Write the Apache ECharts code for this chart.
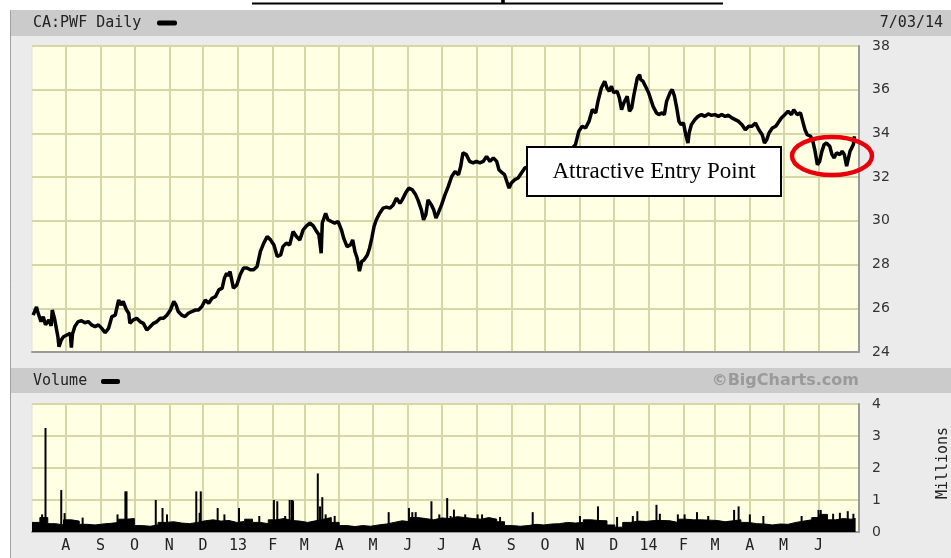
<!DOCTYPE html>
<html>
<head>
<meta charset="utf-8">
<script src="https://cdn.jsdelivr.net/npm/echarts@6/dist/echarts.min.js"></script>
<style>
  html, body { margin: 0; padding: 0; background: #fff; }
  #chart { width: 951px; height: 558px; }
</style>
</head>
<body>
<div id="chart"></div>
<script>
// month grid lines and their labels (first day of each month)
const monthTicks = ['2012-08-01','2012-09-01','2012-10-01','2012-11-01','2012-12-01','2013-01-01','2013-02-01','2013-03-01',
  '2013-04-01','2013-05-01','2013-06-01','2013-07-01','2013-08-01','2013-09-01','2013-10-01','2013-11-01','2013-12-01',
  '2014-01-01','2014-02-01','2014-03-01','2014-04-01','2014-05-01','2014-06-01'];
const monthLabels = ['A','S','O','N','D','13','F','M','A','M','J','J','A','S','O','N','D','14','F','M','A','M','J'];

const priceTicks = [24, 26, 28, 30, 32, 34, 36, 38];
const volumeTicks = [0, 1, 2, 3, 4];

// CA:PWF daily price
const pricePoints = [
  ['2012-07-03',25.69],['2012-07-06',26.06],['2012-07-07',25.85],['2012-07-10',25.39],['2012-07-12',25.62],['2012-07-14',25.24],
  ['2012-07-17',25.47],['2012-07-19',25.19],['2012-07-20',25.92],['2012-07-22',25.54],['2012-07-25',24.70],['2012-07-26',24.24],
  ['2012-07-28',24.55],['2012-07-30',24.70],
  ['2012-08-02',24.78],['2012-08-05',24.86],['2012-08-06',24.20],['2012-08-07',24.82],['2012-08-09',25.16],['2012-08-12',25.39],
  ['2012-08-15',25.43],['2012-08-18',25.34],['2012-08-21',25.39],['2012-08-24',25.24],['2012-08-27',25.16],['2012-08-30',25.24],
  ['2012-09-02',25.08],['2012-09-05',24.88],['2012-09-08',25.08],['2012-09-11',25.62],['2012-09-14',25.69],['2012-09-17',26.38],
  ['2012-09-19',26.15],['2012-09-21',26.31],['2012-09-24',25.92],['2012-09-26',25.77],['2012-09-27',25.31],['2012-09-30',25.47],
  ['2012-10-03',25.54],['2012-10-06',25.39],['2012-10-09',25.31],['2012-10-12',25.01],['2012-10-15',25.16],['2012-10-18',25.31],
  ['2012-10-21',25.39],['2012-10-24',25.54],['2012-10-27',25.54],['2012-10-30',25.69],
  ['2012-11-02',25.92],['2012-11-05',26.31],['2012-11-07',26.15],['2012-11-09',25.85],['2012-11-12',25.69],['2012-11-15',25.62],
  ['2012-11-18',25.77],['2012-11-21',25.85],['2012-11-24',25.92],['2012-11-27',25.92],['2012-11-30',26.08],
  ['2012-12-03',26.38],['2012-12-06',26.23],['2012-12-09',26.46],['2012-12-12',26.53],['2012-12-15',26.84],['2012-12-18',26.92],
  ['2012-12-20',27.38],['2012-12-22',27.61],['2012-12-23',27.48],['2012-12-25',27.68],['2012-12-28',26.92],['2012-12-31',27.07],
  ['2013-01-03',27.53],['2013-01-06',27.84],['2013-01-09',27.84],['2013-01-12',27.76],['2013-01-15',27.76],['2013-01-18',27.91],
  ['2013-01-21',28.60],['2013-01-24',28.98],['2013-01-27',29.28],['2013-01-30',29.13],
  ['2013-02-02',28.90],['2013-02-05',28.37],['2013-02-08',28.44],['2013-02-10',28.82],['2013-02-13',28.98],['2013-02-16',28.90],
  ['2013-02-19',29.51],['2013-02-22',29.28],['2013-02-25',29.13],['2013-02-28',29.59],
  ['2013-03-03',29.77],['2013-03-06',29.90],['2013-03-09',29.77],['2013-03-12',29.51],['2013-03-14',29.36],['2013-03-16',28.52],
  ['2013-03-17',29.90],['2013-03-20',30.35],['2013-03-22',30.05],['2013-03-25',29.97],['2013-03-28',29.90],['2013-03-31',29.97],
  ['2013-04-03',29.59],['2013-04-05',29.21],['2013-04-08',28.82],['2013-04-11',28.90],['2013-04-13',29.13],['2013-04-15',28.60],
  ['2013-04-17',28.29],['2013-04-19',27.70],['2013-04-21',28.14],['2013-04-23',28.21],['2013-04-26',28.44],['2013-04-28',28.75],
  ['2013-04-30',29.21],
  ['2013-05-02',29.74],['2013-05-04',30.05],['2013-05-07',30.35],['2013-05-10',30.58],['2013-05-13',30.63],['2013-05-16',30.58],
  ['2013-05-19',30.73],['2013-05-22',31.04],['2013-05-25',30.81],['2013-05-27',30.96],['2013-05-30',31.27],
  ['2013-06-02',31.50],['2013-06-05',31.42],['2013-06-08',31.19],['2013-06-10',30.96],['2013-06-13',30.51],['2013-06-15',30.05],
  ['2013-06-17',30.28],['2013-06-19',30.96],['2013-06-22',30.73],['2013-06-24',30.51],['2013-06-26',30.13],['2013-06-28',30.35],
  ['2013-07-01',30.73],['2013-07-04',31.19],['2013-07-07',31.58],['2013-07-10',32.03],['2013-07-13',32.26],['2013-07-16',32.11],
  ['2013-07-18',32.49],['2013-07-20',33.11],['2013-07-23',33.03],['2013-07-26',32.72],['2013-07-29',32.65],
  ['2013-08-01',32.72],['2013-08-04',32.65],['2013-08-07',32.72],['2013-08-10',32.95],['2013-08-13',32.72],['2013-08-16',32.88],
  ['2013-08-19',32.72],['2013-08-21',32.34],['2013-08-24',32.19],['2013-08-26',32.11],['2013-08-28',31.80],['2013-08-30',31.50],
  ['2013-09-01',31.73],['2013-09-04',31.88],['2013-09-07',31.96],['2013-09-10',32.19],['2013-09-13',32.42],['2013-09-18',32.50],
  ['2013-09-27',32.80],
  ['2013-10-06',33.00],['2013-10-14',32.90],['2013-10-23',33.20],['2013-10-28',33.49],['2013-10-31',34.10],
  ['2013-11-03',34.33],['2013-11-06',34.25],['2013-11-09',34.55],['2013-11-12',35.09],['2013-11-15',34.94],['2013-11-17',35.47],
  ['2013-11-20',36.08],['2013-11-23',36.39],['2013-11-25',36.08],['2013-11-27',35.93],['2013-11-29',36.16],
  ['2013-12-01',35.86],['2013-12-04',35.93],['2013-12-06',35.63],['2013-12-08',35.09],['2013-12-10',35.40],['2013-12-13',35.70],
  ['2013-12-15',35.01],['2013-12-17',35.17],['2013-12-19',35.78],['2013-12-22',36.54],['2013-12-24',36.69],['2013-12-25',36.46],
  ['2013-12-27',36.39],['2013-12-30',36.08],
  ['2014-01-01',35.86],['2014-01-03',35.55],['2014-01-05',35.24],['2014-01-08',34.94],['2014-01-10',34.86],['2014-01-13',34.94],
  ['2014-01-15',34.86],['2014-01-17',35.47],['2014-01-20',35.86],['2014-01-22',36.01],['2014-01-24',35.70],['2014-01-26',35.17],
  ['2014-01-28',34.55],['2014-01-30',34.40],
  ['2014-02-01',34.48],['2014-02-03',33.94],['2014-02-05',33.56],['2014-02-06',34.02],['2014-02-08',34.40],['2014-02-11',34.63],
  ['2014-02-14',34.78],['2014-02-17',34.86],['2014-02-20',34.78],['2014-02-23',34.89],['2014-02-26',34.83],
  ['2014-03-01',34.86],['2014-03-04',34.78],['2014-03-07',34.86],['2014-03-10',34.78],['2014-03-13',34.83],['2014-03-16',34.71],
  ['2014-03-19',34.63],['2014-03-22',34.55],['2014-03-25',34.40],['2014-03-28',34.17],['2014-03-31',34.33],
  ['2014-04-03',34.33],['2014-04-06',34.48],['2014-04-09',34.17],['2014-04-12',33.94],['2014-04-14',33.56],['2014-04-16',33.71],
  ['2014-04-18',34.02],['2014-04-21',34.25],['2014-04-24',34.33],['2014-04-26',34.48],['2014-04-29',34.71],
  ['2014-05-02',34.86],['2014-05-05',35.01],['2014-05-08',34.86],['2014-05-10',35.09],['2014-05-13',34.86],['2014-05-16',34.94],
  ['2014-05-18',34.55],['2014-05-20',34.17],['2014-05-22',33.94],['2014-05-25',33.87],['2014-05-27',33.64],['2014-05-29',33.18],
  ['2014-05-31',32.57],
  ['2014-06-02',32.72],['2014-06-04',33.18],['2014-06-06',33.49],['2014-06-08',33.56],['2014-06-11',33.41],['2014-06-13',33.03],
  ['2014-06-15',32.88],['2014-06-17',33.11],['2014-06-20',33.03],['2014-06-22',33.18],['2014-06-24',33.03],['2014-06-26',32.50],
  ['2014-06-29',33.18],['2014-07-02',33.49],['2014-07-03',33.87]
];

// volume floor, one value per week (millions), weeks starting 2012-07-02
const volumeWeekStart = '2012-07-02';
const volumeWeekly = [
  0.30,0.45,0.26,0.22,0.38,0.34,0.24,0.22,0.25,0.27,
  0.30,0.40,0.42,0.20,0.18,0.22,0.30,0.32,0.28,0.26,
  0.30,0.35,0.38,0.34,0.36,0.30,0.33,0.40,0.30,0.26,
  0.38,0.42,0.36,0.34,0.30,0.35,0.40,0.45,0.30,0.20,
  0.17,0.20,0.18,0.22,0.25,0.30,0.35,0.32,0.45,0.42,
  0.38,0.44,0.42,0.48,0.45,0.42,0.40,0.45,0.40,0.32,
  0.20,0.18,0.20,0.24,0.22,0.25,0.26,0.30,0.28,0.30,
  0.38,0.36,0.35,0.22,0.15,0.30,0.34,0.33,0.36,0.36,
  0.35,0.30,0.40,0.38,0.38,0.37,0.36,0.32,0.35,0.38,
  0.30,0.26,0.25,0.22,0.25,0.24,0.30,0.34,0.38,0.45,
  0.55,0.38,0.42,0.40,0.42
];
const volumeEnd = '2014-07-04';

// single heavy days (millions)
const volumeSpikes = [
  ['2012-07-11',0.55],['2012-07-14',3.25],['2012-07-28',1.31],['2012-07-31',0.59],['2012-08-16',0.45],['2012-09-16',0.55],
  ['2012-09-23',1.27],['2012-09-24',1.27],['2012-10-20',1.00],['2012-10-26',0.75],['2012-10-30',0.55],['2012-11-25',1.27],
  ['2012-11-28',0.60],['2012-11-29',1.27],['2012-12-14',0.75],['2012-12-20',0.55],
  ['2013-01-02',0.75],['2013-01-20',0.50],['2013-02-02',1.00],['2013-02-05',0.96],['2013-02-12',0.50],['2013-02-16',1.00],
  ['2013-02-18',1.00],['2013-02-19',0.98],['2013-03-13',1.83],['2013-03-15',0.80],['2013-03-17',1.09],['2013-03-20',0.55],
  ['2013-03-28',0.50],['2013-05-15',0.62],['2013-06-02',0.75],['2013-06-05',0.62],['2013-06-08',0.62],['2013-06-22',0.96],
  ['2013-06-29',0.55],['2013-07-06',1.06],['2013-07-09',0.50],['2013-07-12',0.70],['2013-07-22',0.55],['2013-08-02',0.55],
  ['2013-08-06',0.55],['2013-08-22',0.47],['2013-09-20',0.62],['2013-11-01',0.50],['2013-11-17',0.80],['2013-12-04',0.47],
  ['2013-12-18',0.50],['2013-12-22',0.65],
  ['2014-01-08',0.85],['2014-01-11',0.57],['2014-01-27',0.55],['2014-02-02',0.55],['2014-02-13',0.62],['2014-02-23',0.50],
  ['2014-03-18',0.69],['2014-03-22',0.80],['2014-04-01',0.55],['2014-04-13',0.50],['2014-05-17',0.50],['2014-06-01',0.69],
  ['2014-06-03',0.69],['2014-06-14',0.57],['2014-06-20',0.60],['2014-06-27',0.65],['2014-07-02',0.57]
];

const axisMin = '2012-07-02';
const axisMax = '2014-07-07';

const gridColor = '#d6d6a6';
const plotBg = '#ffffe3';
const edgeColor = '#9a9a9a';
const monoFont = '"DejaVu Sans Mono", monospace';

function toTime(s) {
  return new Date(s + 'T00:00:00').getTime();
}

// the x axis is a plain value axis holding timestamps, so month lines can be placed exactly
const tickTimes = monthTicks.map(toTime);
const labelByTime = {};
tickTimes.forEach((t, i) => { labelByTime[t] = monthLabels[i]; });

const priceData = pricePoints.map(p => [toTime(p[0]), p[1]]);
const spikeData = volumeSpikes.map(p => [toTime(p[0]), p[1]]);

// weekly floor as a stepped area
const volumeFloor = volumeWeekly.map((v, i) => {
  const d = new Date(volumeWeekStart + 'T00:00:00');
  d.setDate(d.getDate() + 7 * i);
  return [d.getTime(), v];
});
volumeFloor.push([toTime(volumeEnd), volumeWeekly[volumeWeekly.length - 1]]);

function xAxisFor(gridIndex, showLabels) {
  return {
    type: 'value',
    gridIndex: gridIndex,
    min: toTime(axisMin),
    max: toTime(axisMax),
    axisLine: { show: true, onZero: false, lineStyle: { color: edgeColor, width: 2 } },
    axisTick: { show: false, customValues: tickTimes },
    axisLabel: {
      show: showLabels,
      customValues: tickTimes,
      margin: 7,
      color: '#222',
      fontFamily: monoFont,
      fontSize: 15,
      formatter: v => labelByTime[v] || ''
    },
    splitLine: { show: true, lineStyle: { color: gridColor, width: 2 } }
  };
}

function yAxisFor(gridIndex, ticks) {
  return {
    type: 'value',
    gridIndex: gridIndex,
    position: 'right',
    min: ticks[0],
    max: ticks[ticks.length - 1],
    interval: ticks[1] - ticks[0],
    axisLine: { show: true, lineStyle: { color: edgeColor, width: 2 } },
    axisTick: { show: false },
    axisLabel: { margin: 13, color: '#333', fontFamily: '"DejaVu Sans", sans-serif', fontSize: 14 },
    splitLine: { show: true, lineStyle: { color: gridColor, width: 2 } }
  };
}

const chart = echarts.init(document.getElementById('chart'));

chart.setOption({
  animation: false,
  backgroundColor: '#fff',
  grid: [
    { left: 32, top: 46, right: 92, height: 306, show: true, backgroundColor: plotBg, borderColor: '#e2e2d2', borderWidth: 1 },
    { left: 32, top: 404, right: 92, height: 128, show: true, backgroundColor: plotBg, borderColor: '#e2e2d2', borderWidth: 1 }
  ],
  xAxis: [xAxisFor(0, false), xAxisFor(1, true)],
  yAxis: [yAxisFor(0, priceTicks), yAxisFor(1, volumeTicks)],
  series: [
    {
      name: 'CA:PWF Daily',
      type: 'line',
      xAxisIndex: 0,
      yAxisIndex: 0,
      data: priceData,
      symbol: 'none',
      lineStyle: { color: '#000', width: 3.5, join: 'bevel' }
    },
    {
      name: 'Volume',
      type: 'line',
      xAxisIndex: 1,
      yAxisIndex: 1,
      step: 'end',
      data: volumeFloor,
      symbol: 'none',
      lineStyle: { color: '#000', width: 1 },
      areaStyle: { color: '#000', opacity: 1 }
    },
    {
      name: 'Volume spikes',
      type: 'bar',
      xAxisIndex: 1,
      yAxisIndex: 1,
      data: spikeData,
      barWidth: 2,
      itemStyle: { color: '#000' }
    }
  ],
  graphic: [
    // page frame and header bands
    { type: 'rect', z: -10, shape: { x: 10.5, y: 10.5, width: 980, height: 580 }, style: { fill: '#ebebeb', stroke: '#a0a0a0', lineWidth: 1 } },
    { type: 'rect', z: -9, shape: { x: 11, y: 10, width: 940, height: 26 }, style: { fill: '#cbcbcb' } },
    { type: 'rect', z: -9, shape: { x: 11, y: 368, width: 940, height: 25 }, style: { fill: '#cbcbcb' } },

    // cut-off page title
    { type: 'text', z: 5, x: 487, y: 5, style: { text: 'Power Financial Corp. Two Year Chart', font: 'bold 26px "Liberation Serif", serif', fill: '#000', align: 'center', textAlign: 'center', verticalAlign: 'bottom', textVerticalAlign: 'bottom' } },
    { type: 'line', z: 5, shape: { x1: 252, y1: 3.5, x2: 723, y2: 3.5 }, style: { stroke: '#000', lineWidth: 2 } },

    // header texts
    { type: 'text', z: 5, x: 33, y: 23, style: { text: 'CA:PWF Daily', font: '15px ' + monoFont, fill: '#222', align: 'left', textAlign: 'left', verticalAlign: 'middle', textVerticalAlign: 'middle' } },
    { type: 'rect', z: 5, shape: { x: 157, y: 20.5, width: 20, height: 5, r: 2 }, style: { fill: '#000' } },
    { type: 'text', z: 5, x: 943, y: 23, style: { text: '7/03/14', font: '15px ' + monoFont, fill: '#222', align: 'right', textAlign: 'right', verticalAlign: 'middle', textVerticalAlign: 'middle' } },
    { type: 'text', z: 5, x: 33, y: 381, style: { text: 'Volume', font: '15px ' + monoFont, fill: '#222', align: 'left', textAlign: 'left', verticalAlign: 'middle', textVerticalAlign: 'middle' } },
    { type: 'rect', z: 5, shape: { x: 101, y: 379, width: 19, height: 5, r: 2 }, style: { fill: '#000' } },
    { type: 'text', z: 5, x: 859, y: 381, style: { text: '©BigCharts.com', font: 'bold 16px "DejaVu Sans", sans-serif', fill: '#9a9a9a', align: 'right', textAlign: 'right', verticalAlign: 'middle', textVerticalAlign: 'middle' } },
    { type: 'text', z: 5, x: 943, y: 463, rotation: Math.PI / 2, style: { text: 'Millions', font: '15px ' + monoFont, fill: '#222', align: 'center', textAlign: 'center', verticalAlign: 'middle', textVerticalAlign: 'middle' } },

    // annotation
    { type: 'rect', z: 100, shape: { x: 527, y: 147, width: 254, height: 49 }, style: { fill: '#fff', stroke: '#000', lineWidth: 2 } },
    { type: 'text', z: 101, x: 654, y: 172, style: { text: 'Attractive Entry Point', font: '23px "Liberation Serif", serif', fill: '#000', align: 'center', textAlign: 'center', verticalAlign: 'middle', textVerticalAlign: 'middle' } },
    { type: 'ellipse', z: 100, shape: { cx: 832, cy: 156, rx: 40, ry: 19 }, style: { fill: 'none', stroke: '#e8000b', lineWidth: 4.5 } }
  ]
});
</script>
</body>
</html>
